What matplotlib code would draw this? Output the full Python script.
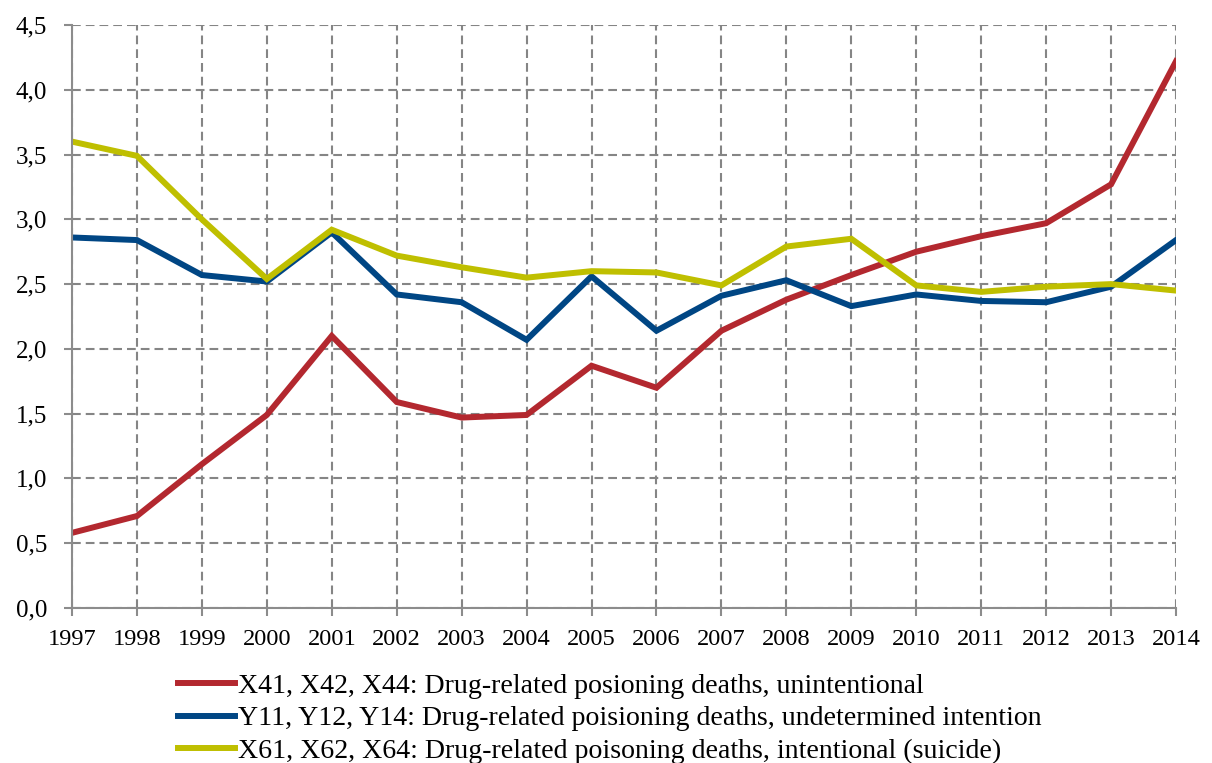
import matplotlib
matplotlib.use('Agg')
import matplotlib.pyplot as plt
from matplotlib.ticker import FuncFormatter

# Data
years = list(range(1997, 2015))
unintentional = [0.58, 0.71, 1.11, 1.49, 2.10, 1.59, 1.47, 1.49, 1.87, 1.70,
                 2.14, 2.38, 2.57, 2.75, 2.87, 2.97, 3.27, 4.22]
undetermined = [2.86, 2.84, 2.57, 2.52, 2.90, 2.42, 2.36, 2.07, 2.56, 2.14,
                2.41, 2.53, 2.33, 2.42, 2.37, 2.36, 2.48, 2.84]
suicide = [3.60, 3.49, 3.00, 2.54, 2.92, 2.72, 2.63, 2.55, 2.60, 2.59,
           2.49, 2.79, 2.85, 2.49, 2.44, 2.48, 2.50, 2.45]

labels = [
    'X41, X42, X44: Drug-related posioning deaths, unintentional',
    'Y11, Y12, Y14: Drug-related poisioning deaths, undetermined intention',
    'X61, X62, X64: Drug-related poisoning deaths, intentional (suicide)',
]
colors = ['#B3282F', '#004684', '#BFBF00']

plt.rcParams['font.family'] = ['Liberation Serif', 'DejaVu Serif']

fig = plt.figure(figsize=(12.12, 7.63), dpi=100)
ax = fig.add_axes([72 / 1212, 1 - 608 / 763, (1176 - 72) / 1212, (608 - 25) / 763])

for series, lab, col in zip([unintentional, undetermined, suicide], labels, colors):
    ax.plot(years, series, color=col, linewidth=4.3, label=lab,
            solid_joinstyle='miter')

ax.set_xlim(1997, 2014)
ax.set_ylim(0, 4.5)
ax.set_xticks(years)
ax.set_yticks([i * 0.5 for i in range(10)])
ax.yaxis.set_major_formatter(FuncFormatter(lambda v, p: f'{v:.1f}'.replace('.', ',')))

ax.grid(True, color='#858585', linestyle=(0, (4.2, 2.4)), linewidth=1.5)
ax.set_axisbelow(True)
for side in ['top', 'right']:
    ax.spines[side].set_visible(False)
for side in ['left', 'bottom']:
    ax.spines[side].set_color('#8c8c8c')
    ax.spines[side].set_linewidth(1.5)
ax.tick_params(axis='both', direction='out', color='#8c8c8c', width=1.5, length=6)
ax.tick_params(axis='y', labelsize=18, pad=12)
ax.tick_params(axis='x', labelsize=17.6, pad=9)

fig.legend(loc='upper left', bbox_to_anchor=(178 / 1212, 1 - 673 / 763),
           frameon=False, fontsize=20.1, handlelength=2.05, handletextpad=0.1,
           labelspacing=0.26, borderaxespad=0, borderpad=0)

fig.savefig('out.png', dpi=100, facecolor='white')
